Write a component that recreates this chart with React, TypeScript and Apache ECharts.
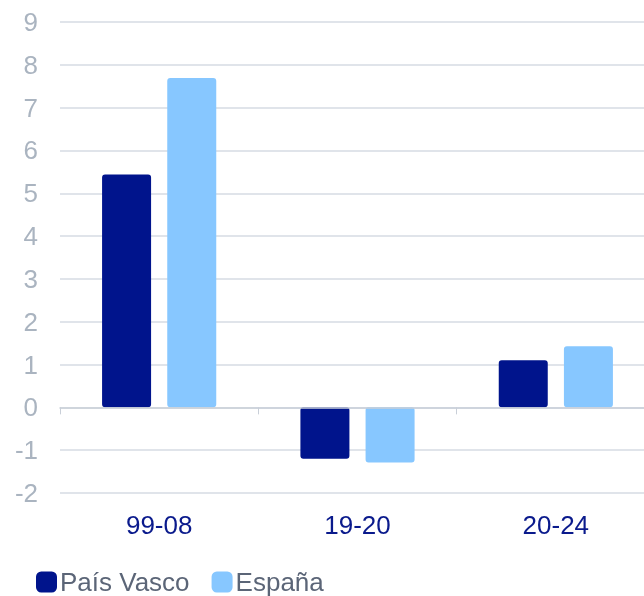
import React, { useEffect, useRef } from "react";
import * as echarts from "echarts";

const categories = ["99-08", "19-20", "20-24"];
const paisVasco = [5.44, -1.2, 1.1];
const espana = [7.69, -1.29, 1.43];
const seriesNames = ["País Vasco", "España"];

const FONT = "'Liberation Sans', Arial, sans-serif";

export default function App() {
  const ref = useRef<HTMLDivElement>(null);
  useEffect(() => {
    if (!ref.current) return;
    const chart = echarts.init(ref.current, undefined, { renderer: "svg" });
    chart.setOption({
      animation: false,
      grid: { left: 60, right: 0, top: 22, height: 471, containLabel: false },
      legend: {
        left: 36,
        top: 569,
        padding: 0,
        itemWidth: 21,
        itemHeight: 21,
        itemGap: 22,
        icon: "roundRect",
        textStyle: { color: "#5b6577", fontSize: 26, fontFamily: FONT, padding: [0, 0, 0, -2] },
        data: seriesNames,
      },
      xAxis: {
        type: "category",
        data: categories,
        z: 10,
        axisLine: { onZero: true, lineStyle: { color: "#c9cfd8", width: 1.5 } },
        axisTick: { show: true, length: 7, lineStyle: { color: "#c9cfd8" } },
        axisLabel: {
          color: "#0a1a8c",
          fontSize: 26,
          fontFamily: FONT,
          margin: 19,
          interval: 0,
        },
        position: "bottom",
      },
      yAxis: {
        type: "value",
        min: -2,
        max: 9,
        interval: 1,
        axisLine: { show: false },
        axisTick: { show: false },
        splitLine: { lineStyle: { color: "#d6dbe3", width: 1.5 } },
        axisLabel: { color: "#aab4c0", fontSize: 26, fontFamily: FONT, margin: 22 },
      },
      series: [
        {
          name: seriesNames[0],
          type: "bar",
          data: paisVasco,
          barWidth: 49,
          barGap: "33%",
          itemStyle: { color: "#00148c", borderRadius: 3 },
        },
        {
          name: seriesNames[1],
          type: "bar",
          data: espana,
          barWidth: 49,
          barGap: "33%",
          itemStyle: { color: "#87c7ff", borderRadius: 3 },
        },
      ],
    });
    return () => chart.dispose();
  }, []);
  return (
    <div
      ref={ref}
      style={{ position: "fixed", left: 0, top: 0, width: 655, height: 596 }}
    />
  );
}
